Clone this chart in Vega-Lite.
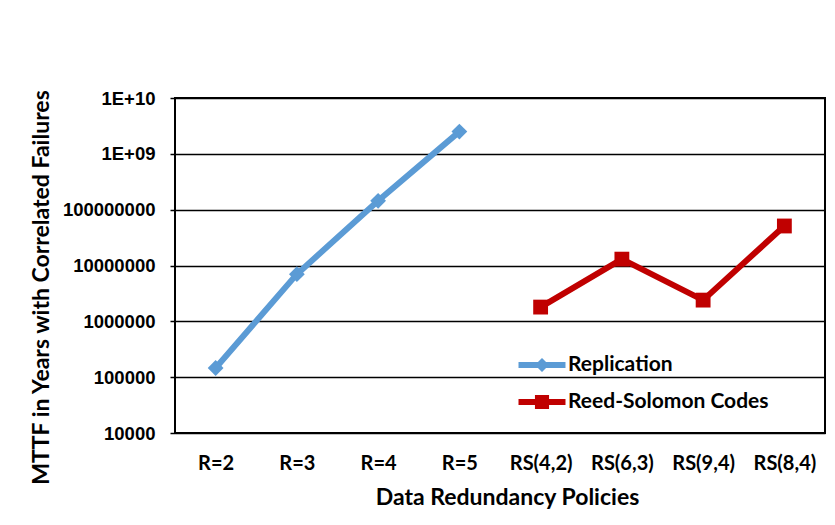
{
  "$schema": "https://vega.github.io/schema/vega-lite/v6.json",
  "width": 650,
  "height": 335,
  "autosize": {"type": "none"},
  "padding": {"left": 175, "top": 98, "right": 10, "bottom": 92},
  "background": "white",
  "config": {
    "font": "Lato",
    "view": {"stroke": "black", "strokeWidth": 2},
    "axis": {"labelFont": "Lato", "titleFont": "Lato", "labelFontWeight": "bold", "titleFontWeight": "bold", "labelColor": "black", "titleColor": "black"}
  },
  "data": {
    "values": [
      {"policy": "R=2", "series": "Replication", "mttf": 146000},
      {"policy": "R=3", "series": "Replication", "mttf": 7000000},
      {"policy": "R=4", "series": "Replication", "mttf": 144000000},
      {"policy": "R=5", "series": "Replication", "mttf": 2500000000},
      {"policy": "RS(4,2)", "series": "Reed-Solomon Codes", "mttf": 1800000},
      {"policy": "RS(6,3)", "series": "Reed-Solomon Codes", "mttf": 13000000},
      {"policy": "RS(9,4)", "series": "Reed-Solomon Codes", "mttf": 2400000},
      {"policy": "RS(8,4)", "series": "Reed-Solomon Codes", "mttf": 51000000}
    ]
  },
  "encoding": {
    "x": {
      "field": "policy",
      "type": "ordinal",
      "sort": null,
      "scale": {"type": "point", "padding": 0.5},
      "axis": {
        "title": "Data Redundancy Policies",
        "titleFontSize": 23,
        "titleX": 332,
        "titleY": 64,
        "titleBaseline": "middle",
        "labelFontSize": 20,
        "labelAngle": 0,
        "labelBaseline": "middle",
        "labelPadding": 30,
        "ticks": false,
        "domain": false,
        "grid": false
      }
    },
    "y": {
      "field": "mttf",
      "type": "quantitative",
      "scale": {"type": "log", "domain": [10000, 10000000000], "nice": false},
      "axis": {
        "title": "MTTF in Years with Correlated Failures",
        "titleFontSize": 23,
        "titleAngle": -90,
        "titleX": -134,
        "titleY": 189,
        "titleAlign": "center",
        "titleBaseline": "middle",
        "values": [10000, 100000, 1000000, 10000000, 100000000, 1000000000, 10000000000],
        "labelExpr": "datum.value >= 1e10 ? '1E+10' : (datum.value >= 1e9 ? '1E+09' : format(datum.value, 'd'))",
        "labelFont": "Liberation Sans",
        "labelFontSize": 18.5,
        "labelPadding": 15,
        "tickSize": 5,
        "tickColor": "black",
        "tickWidth": 1.5,
        "domain": false,
        "grid": true,
        "gridColor": "black",
        "gridWidth": 1.5,
        "gridOpacity": 1
      }
    },
    "color": {
      "field": "series",
      "type": "nominal",
      "scale": {"domain": ["Replication", "Reed-Solomon Codes"], "range": ["#5B9BD5", "#C00000"]},
      "legend": {
        "title": null,
        "orient": "none",
        "legendX": 355,
        "legendY": 255,
        "labelFont": "Lato",
        "labelFontSize": 21,
        "labelFontWeight": "bold",
        "labelColor": "black",
        "labelLimit": 400,
        "symbolSize": 552,
        "labelOffset": 14,
        "rowPadding": 15,
        "encode": {
          "symbols": {
            "update": {
              "shape": {"signal": "datum.value === 'Replication' ? 'M-2,-0.25L2,-0.25L2,0.25L-2,0.25Z M0,-0.6L0.6,0L0,0.6L-0.6,0Z' : 'M-2,-0.25L2,-0.25L2,0.25L-2,0.25Z M-0.6,-0.6L0.6,-0.6L0.6,0.6L-0.6,0.6Z'"},
              "fill": {"signal": "datum.value === 'Replication' ? '#5B9BD5' : '#C00000'"},
              "stroke": {"value": "transparent"},
              "strokeWidth": {"value": 0},
              "opacity": {"value": 1},
              "fillOpacity": {"value": 1}
            }
          }
        }
      }
    }
  },
  "layer": [
    {
      "mark": {"type": "line", "strokeWidth": 6, "strokeJoin": "round"}
    },
    {
      "transform": [{"filter": "datum.series === 'Replication'"}],
      "mark": {"type": "point", "shape": "diamond", "filled": true, "opacity": 1, "size": 250}
    },
    {
      "transform": [{"filter": "datum.series === 'Reed-Solomon Codes'"}],
      "mark": {"type": "point", "shape": "square", "filled": true, "opacity": 1, "size": 220}
    }
  ]
}
